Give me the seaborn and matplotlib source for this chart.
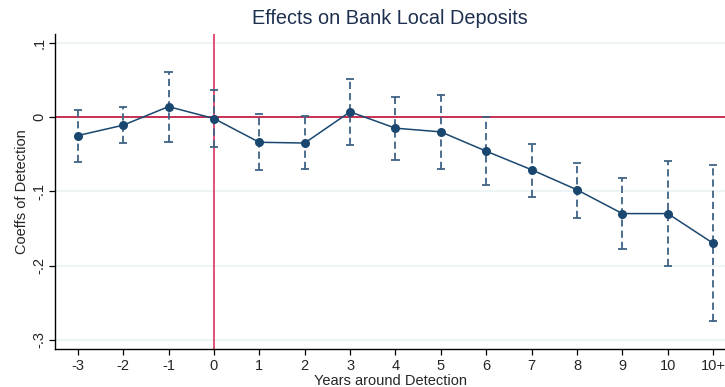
import numpy as np
import pandas as pd
import seaborn as sns
import matplotlib.pyplot as plt

# Event-study coefficients with 95% confidence bounds
year_labels = ["-3", "-2", "-1", "0", "1", "2", "3", "4", "5", "6", "7", "8", "9", "10", "10+"]
coef = [-0.025, -0.011, 0.014, -0.002, -0.034, -0.035, 0.007, -0.015, -0.020,
        -0.046, -0.071, -0.098, -0.130, -0.130, -0.170]
ci_low = [-0.060, -0.035, -0.033, -0.041, -0.071, -0.070, -0.038, -0.058, -0.070,
          -0.092, -0.107, -0.136, -0.177, -0.200, -0.275]
ci_high = [0.010, 0.014, 0.061, 0.037, 0.004, 0.001, 0.051, 0.027, 0.030,
           0.000, -0.036, -0.062, -0.082, -0.059, -0.065]
y_ticks = [0.1, 0.0, -0.1, -0.2, -0.3]
y_tick_labels = [".1", "0", "-.1", "-.2", "-.3"]

sns.set_style("white")
plt.rcParams["font.family"] = ["Liberation Sans", "DejaVu Sans"]

navy = "#1a476f"
ci_color = "#3f6285"
grid_color = "#eaf2f3"

df = pd.DataFrame({
    "pos": np.arange(-3, -3 + len(year_labels)),
    "coef": coef,
    "lo": ci_low,
    "hi": ci_high,
})

fig = plt.figure(figsize=(7.25, 3.87), dpi=100)
ax = fig.add_axes([0.0759, 0.0974, 0.9241, 0.8146])

for t in y_ticks:
    ax.axhline(t, color=grid_color, lw=1.2, zorder=0)

ax.axvline(0, color="#e0406a", lw=1.3, zorder=1)
ax.axhline(0, color="#c0103a", lw=1.2, zorder=1)

ax.vlines(df["pos"], df["lo"], df["hi"], colors=ci_color, lw=1.3,
          linestyles=(0, (4, 2.2)), zorder=2)
ax.hlines(df["lo"], df["pos"] - 0.09, df["pos"] + 0.09, colors=ci_color, lw=1.3, zorder=2)
ax.hlines(df["hi"], df["pos"] - 0.09, df["pos"] + 0.09, colors=ci_color, lw=1.3, zorder=2)

sns.lineplot(data=df, x="pos", y="coef", ax=ax, color=navy, lw=1.1,
             marker="o", markersize=6.5, markeredgewidth=0, zorder=3)

ax.set_xlim(-3.5, 11.26)
ax.set_ylim(-0.3127, 0.1117)
ax.set_xticks(df["pos"])
ax.set_xticklabels(year_labels, fontsize=10.5)
ax.set_yticks(y_ticks)
ax.set_yticklabels(y_tick_labels, fontsize=10.5, rotation=90, va="center")

for side in ["top", "right"]:
    ax.spines[side].set_visible(False)
for side in ["left", "bottom"]:
    ax.spines[side].set_color("black")
    ax.spines[side].set_linewidth(1.0)
ax.tick_params(axis="both", direction="out", length=4, width=0.9, color="black",
               pad=3, bottom=True, left=True)
ax.tick_params(axis="y", pad=2)

ax.set_xlabel("Years around Detection", fontsize=10.5, labelpad=1)
ax.set_ylabel("Coeffs of Detection", fontsize=10.5, labelpad=3)
ax.set_title("Effects on Bank Local Deposits", fontsize=14.3, color="#1e3050", pad=7)

fig.savefig("out.png", dpi=100)
